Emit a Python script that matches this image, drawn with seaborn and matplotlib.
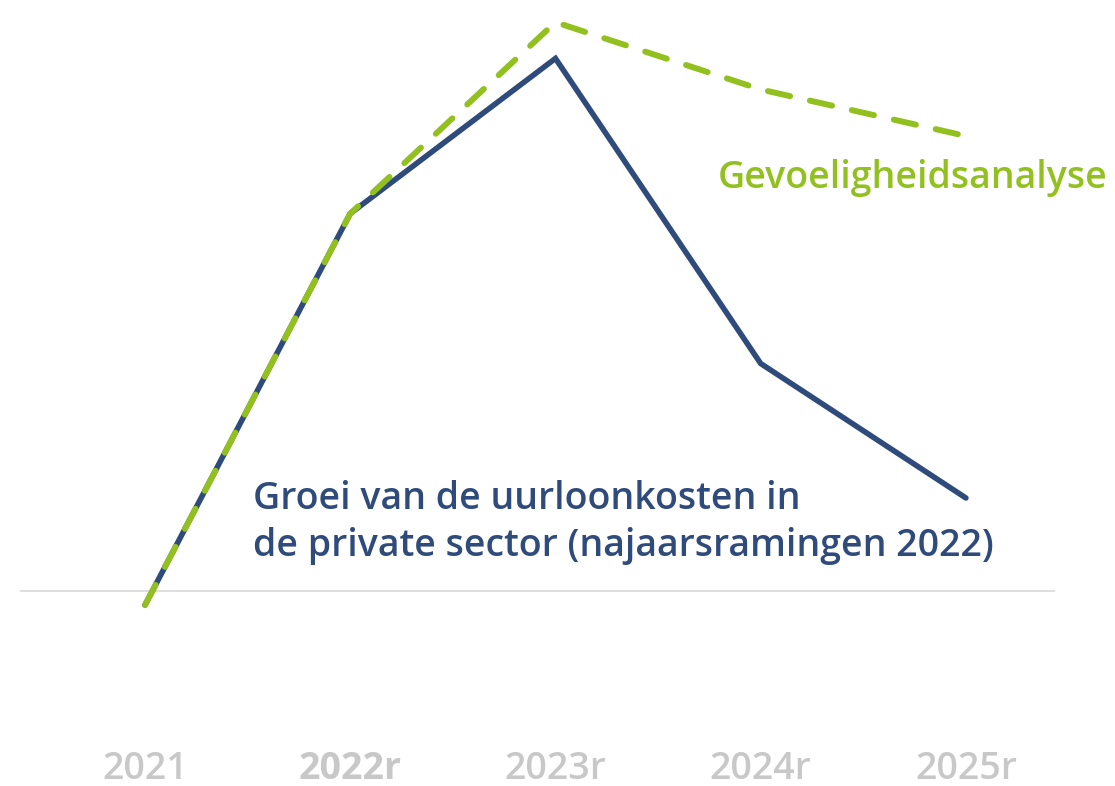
import matplotlib
matplotlib.use('Agg')
import matplotlib.pyplot as plt
import seaborn as sns
import pandas as pd

# gegevens (groei in %)
jaren = ['2021', '2022r', '2023r', '2024r', '2025r']
raming = [-0.27, 7.3, 10.3, 4.4, 1.8]
gevoeligheid = [-0.27, 7.3, 11.0, 9.7, 8.8]

blauw = '#2f4b7c'
groen = '#92c01f'
grijs = '#c8c8c8'

sns.set_theme(style='white')
plt.rcParams['font.family'] = ['Open Sans', 'DejaVu Sans']

df = pd.DataFrame({'x': range(len(jaren)), 'raming': raming, 'gevoeligheid': gevoeligheid})

fig = plt.figure(figsize=(11.15, 7.86), dpi=100)
ax = fig.add_axes([20 / 1115, 46 / 786, 1035 / 1115, 740 / 786])

ax.axhline(0, color='#d9d9d9', lw=1.2, zorder=1)
sns.lineplot(data=df, x='x', y='raming', color=blauw, lw=4.0,
             ax=ax, zorder=2, solid_capstyle='round', solid_joinstyle='miter')
sns.lineplot(data=df, x='x', y='gevoeligheid', color=groen, lw=4.3, ax=ax, zorder=3)
ax.lines[-1].set_dashes([3.8, 3.4])
ax.lines[-1].set_dash_capstyle('round')

ax.set_xlim(-0.609, 4.434)
ax.set_ylim(-2.88, 11.43)
ax.set_xticks(range(len(jaren)))
ax.set_xticklabels(jaren, fontsize=27, color=grijs)
for i, t in enumerate(ax.get_xticklabels()):
    t.set_fontweight('bold' if i == 1 else 'semibold')
ax.tick_params(axis='x', length=0, pad=7)
ax.set_yticks([])
ax.set_xlabel('')
ax.set_ylabel('')
sns.despine(ax=ax, left=True, bottom=True)

ax.text(2.79, 7.99, 'Gevoeligheidsanalyse', color=groen, fontsize=27,
        fontweight='semibold', va='center', ha='left')
ax.text(0.526, 1.33, 'Groei van de uurloonkosten in\nde private sector (najaarsramingen 2022)',
        color=blauw, fontsize=27, fontweight='semibold', va='center', ha='left',
        linespacing=1.3)

fig.savefig('out.png', dpi=100)
